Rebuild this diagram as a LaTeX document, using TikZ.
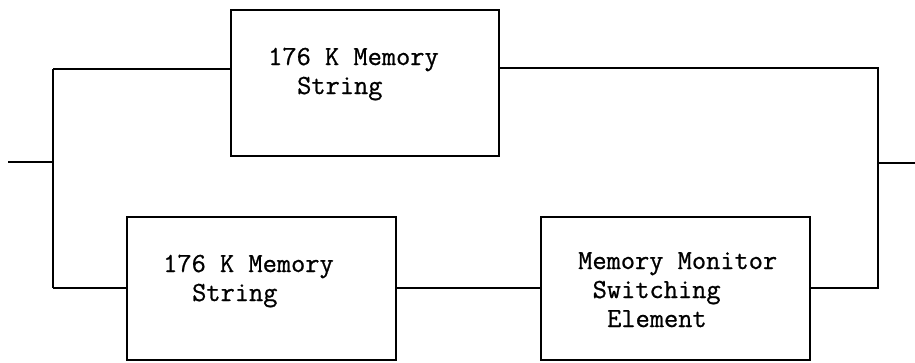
\documentclass[tikz,border=0pt]{standalone}
\usepackage{fontspec}
% typewriter face, slightly emboldened
\newfontfamily\typeface{Latin Modern Mono}[FakeBold=0.8]
\begin{document}
\begin{tikzpicture}[x=1pt,y=-1pt,
  wire/.style={line width=1.3pt},
  blockbox/.style={draw, line width=1.3pt, rectangle, inner sep=0pt},
  blocktext/.style={font=\typeface\fontsize{27.6}{29}\selectfont, align=left,
    anchor=base west, inner sep=0pt}]
\useasboundingbox (0,0) rectangle (915,362);

% blocks
\node[blockbox, minimum width=268pt, minimum height=146pt] (top) at (365,83) {};
\node[blockbox, minimum width=269pt, minimum height=143pt] (low) at (261.5,288.5) {};
\node[blockbox, minimum width=269pt, minimum height=143pt] (mon) at (675.5,288.5) {};

% block labels (anchored on the baseline of their last line)
\node[blocktext] (toptext) at (268,94) {176 K Memory\\\hspace*{1.05em}String};
\node[blocktext] (lowtext) at (163,301) {176 K Memory\\\hspace*{1.05em}String};
\node[blocktext] (montext) at (578,327) {Memory Monitor\\\hspace*{0.525em}Switching\\\hspace*{1.05em}Element};

% branch points
\coordinate (in) at (8,162);
\coordinate (split) at (53,162);
\coordinate (splittop) at (53,69);
\coordinate (splitlow) at (53,288);
\coordinate (join) at (878,163);
\coordinate (jointop) at (878,68);
\coordinate (joinlow) at (878,288);
\coordinate (out) at (915,163);

% connections
\draw[wire] (in) -- (split);
\draw[wire] (splittop) -- (splitlow);
\draw[wire] (splittop) -- (splittop -| top.west);
\draw[wire] (splitlow) -- (splitlow -| low.west);
\draw[wire] (low.east |- splitlow) -- (mon.west |- splitlow);
\draw[wire] (top.east |- jointop) -- (jointop) -- (joinlow) -- (joinlow -| mon.east);
\draw[wire] (join) -- (out);
\end{tikzpicture}
\end{document}
